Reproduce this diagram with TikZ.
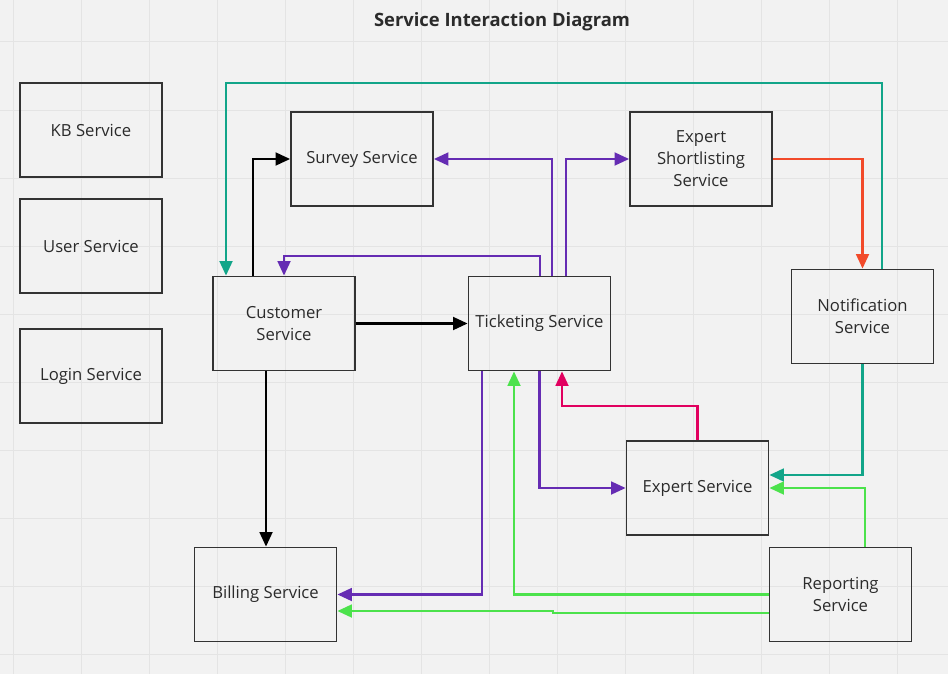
\documentclass[tikz,border=0pt]{standalone}
\usepackage{fontspec}
\setmainfont{Open Sans}
\usetikzlibrary{arrows.meta}
\definecolor{bg}{HTML}{F2F2F2}
\definecolor{gridc}{HTML}{E4E4E4}
\definecolor{boxc}{HTML}{333333}
\definecolor{txt}{HTML}{2B2B2B}
\definecolor{cteal}{HTML}{12A589}
\definecolor{cpurple}{HTML}{652CB3}
\definecolor{cpink}{HTML}{E1005F}
\definecolor{cred}{HTML}{F24A2A}
\definecolor{cgreen}{HTML}{4CE24C}
\begin{document}
\begin{tikzpicture}[x=0.75pt,y=-0.75pt,
  box/.style={draw=boxc, line width=1.2pt, minimum width=106.5pt, minimum height=70.5pt,
    inner sep=0pt, align=center, font=\fontsize{12.5}{16.5}\selectfont, text=txt},
  conn/.style={line width=2.1pt, line join=miter, -{Triangle[length=11pt,width=9.5pt]}},
  gridline/.style={draw=gridc, line width=0.75pt}
]
\fill[bg] (0,0) rectangle (948,674);
\useasboundingbox (0,0) rectangle (948,674);
\foreach \x in {13,81,...,897} \draw[gridline] (\x,0) -- (\x,674);
\foreach \y in {42,110,...,654} \draw[gridline] (0,\y) -- (948,\y);

\node[font=\fontsize{13.8}{17}\selectfont\bfseries, text=txt] (title) at (502,21.5) {Service Interaction Diagram};

\node[box] (kb) at (91,130) {KB Service};
\node[box] (user) at (91,246) {User Service};
\node[box] (login) at (91,376) {Login Service};
\node[box] (cust) at (284,323.5) {Customer\\Service};
\node[box] (survey) at (362,159) {Survey Service};
\node[box] (tick) at (539.5,323.5) {Ticketing Service};
\node[box] (exs) at (701,159) {Expert\\Shortlisting\\Service};
\node[box] (notif) at (862.5,316.5) {Notification\\Service};
\node[box] (expert) at (697.5,488) {Expert Service};
\node[box] (report) at (840.5,594.5) {Reporting\\Service};
\node[box] (bill) at (265.5,594.5) {Billing Service};

% teal
\draw[conn, cteal] (notif.north -| 882,0) -- (882,83) -| (cust.north -| 226,0);
\draw[conn, cteal] (notif.south) |- (expert.east |- 0,475);
% black
\draw[conn, black] (cust.north -| 253,0) |- (survey.west);
\draw[conn, black] (cust.east) -- (tick.west);
\draw[conn, black] (cust.south -| 266,0) -- (bill.north -| 266,0);
% purple
\draw[conn, cpurple] (tick.north -| 552,0) |- (survey.east);
\draw[conn, cpurple] (tick.north -| 566,0) |- (exs.west);
\draw[conn, cpurple] (tick.north -| 540,0) -- (540,256) -| (cust.north);
\draw[conn, cpurple] (tick.south -| 482,0) |- (bill.east);
\draw[conn, cpurple] (tick.south) |- (expert.west);
% pink
\draw[conn, cpink] (expert.north) -- (697.5,406) -| (tick.south -| 562,0);
% red
\draw[conn, cred] (exs.east) -| (notif.north);
% green
\draw[conn, cgreen] (report.north -| 865,0) |- (expert.east);
\draw[conn, cgreen] (report.west) -| (tick.south -| 514,0);
\draw[conn, cgreen] (report.west |- 0,613) -- (553,613) -- (553,611) -- (bill.east |- 0,611);
\end{tikzpicture}
\end{document}
